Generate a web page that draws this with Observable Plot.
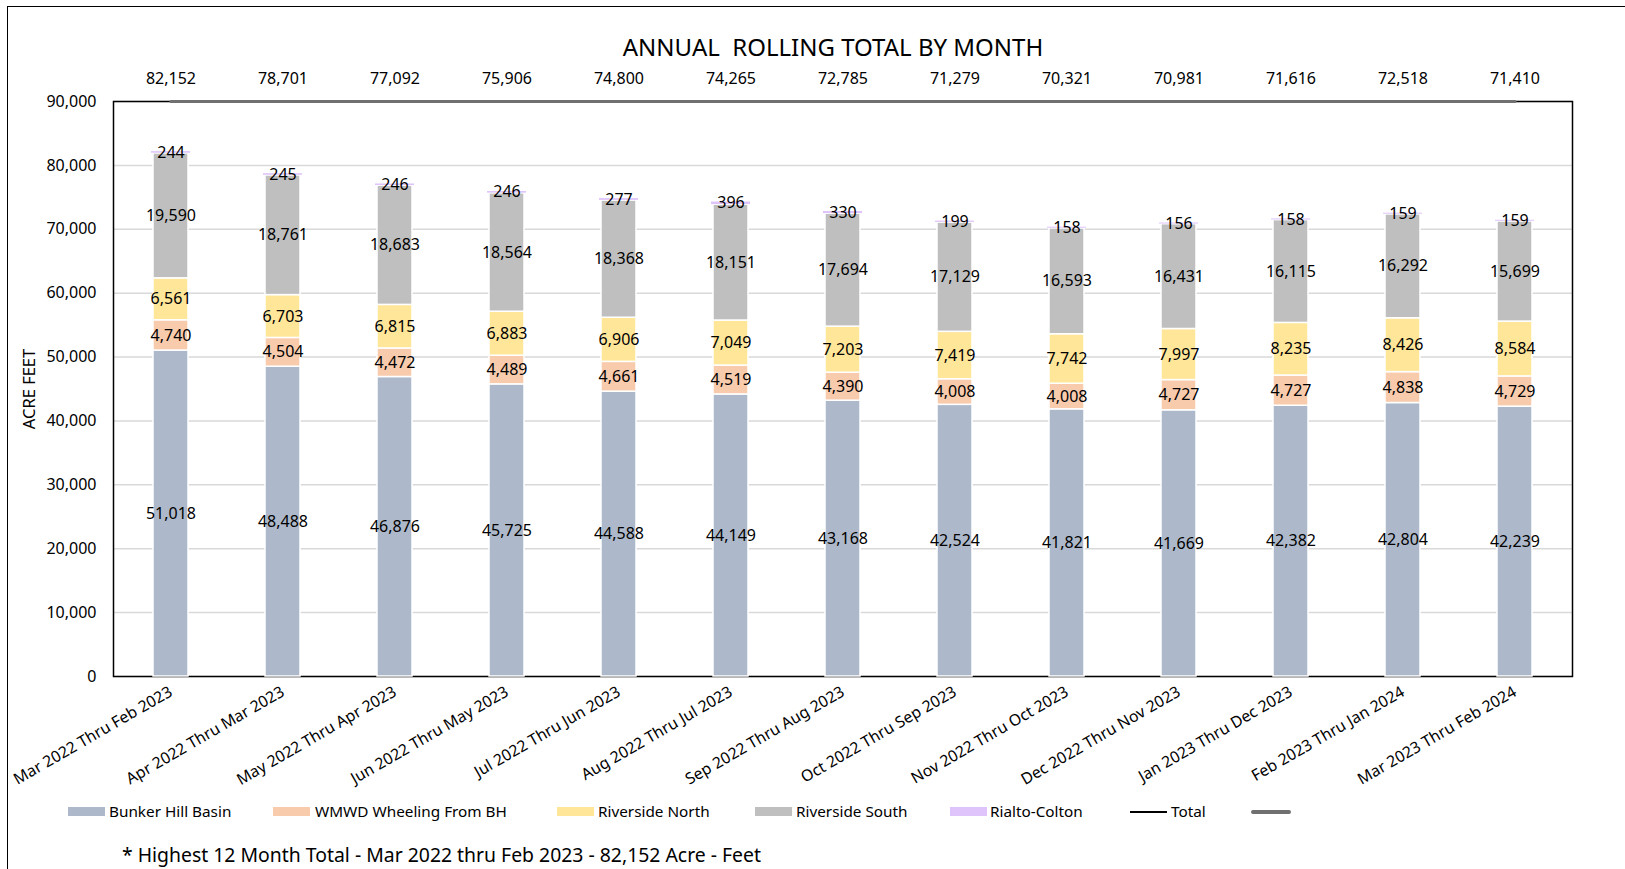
<!DOCTYPE html>
<html>
<head>
<meta charset="utf-8">
<script src="https://cdn.jsdelivr.net/npm/d3@7"></script>
<script src="https://cdn.jsdelivr.net/npm/@observablehq/plot@0.6"></script>
<style>
  html, body { margin: 0; padding: 0; background: #fff; }
  body { width: 1625px; height: 869px; position: relative; overflow: hidden; font-family: "Noto Sans", sans-serif; color: #000; }
  #border { position: absolute; left: 7px; top: 6px; width: 1700px; height: 900px; border: 1.5px solid #000; box-sizing: border-box; }
  #chart { position: absolute; left: 0; top: 0; }
  #title { position: absolute; left: 0; width: 1666px; top: 32px; text-align: center; font-size: 24px; white-space: pre; line-height: 30px; }
  .leg { position: absolute; top: 800px; height: 22px; font-size: 15.3px; line-height: 22px; white-space: nowrap; }
  .sw { position: absolute; top: 807px; height: 9px; }
  .ln { position: absolute; }
  #note { position: absolute; left: 122px; top: 842px; font-size: 19.4px; line-height: 26px; white-space: nowrap; }
</style>
</head>
<body>
<div id="border"></div>
<div id="chart"></div>
<div id="title">ANNUAL  ROLLING TOTAL BY MONTH</div>
<div id="legend"></div>
<div id="note">* Highest 12 Month Total - Mar 2022 thru Feb 2023 - 82,152 Acre - Feet</div>
<script>
const categories = [
  "Mar 2022 Thru Feb 2023", "Apr 2022 Thru Mar 2023", "May 2022 Thru Apr 2023",
  "Jun 2022 Thru May 2023", "Jul 2022 Thru Jun 2023", "Aug 2022 Thru Jul 2023",
  "Sep 2022 Thru Aug 2023", "Oct 2022 Thru Sep 2023", "Nov 2022 Thru Oct 2023",
  "Dec 2022 Thru Nov 2023", "Jan 2023 Thru Dec 2023", "Feb 2023 Thru Jan 2024",
  "Mar 2023 Thru Feb 2024"
];
const bunkerHill = [51018, 48488, 46876, 45725, 44588, 44149, 43168, 42524, 41821, 41669, 42382, 42804, 42239];
const wmwdWheeling = [4740, 4504, 4472, 4489, 4661, 4519, 4390, 4008, 4008, 4727, 4727, 4838, 4729];
const riversideNorth = [6561, 6703, 6815, 6883, 6906, 7049, 7203, 7419, 7742, 7997, 8235, 8426, 8584];
const riversideSouth = [19590, 18761, 18683, 18564, 18368, 18151, 17694, 17129, 16593, 16431, 16115, 16292, 15699];
const rialtoColton = [244, 245, 246, 246, 277, 396, 330, 199, 158, 156, 158, 159, 159];
const totals = [82152, 78701, 77092, 75906, 74800, 74265, 72785, 71279, 70321, 70981, 71616, 72518, 71410];
const seriesNames = ["Bunker Hill Basin", "WMWD Wheeling From BH", "Riverside North", "Riverside South", "Rialto-Colton"];
const seriesColors = ["#adb9ca", "#f8cbad", "#ffe699", "#bfbfbf", "#dfc3fb"];
const yTicks = [0, 10000, 20000, 30000, 40000, 50000, 60000, 70000, 80000, 90000];

const seriesValues = [bunkerHill, wmwdWheeling, riversideNorth, riversideSouth, rialtoColton];
const rows = categories.flatMap((c, i) => seriesNames.map((s, j) => ({period: c, series: s, value: seriesValues[j][i]})));
const rialtoRows = categories.map((c, i) => {
  const base = bunkerHill[i] + wmwdWheeling[i] + riversideNorth[i] + riversideSouth[i];
  return {period: c, base, top: base + rialtoColton[i]};
});
const fmt = d3.format(",");

const chart = Plot.plot({
  width: 1625, height: 869,
  marginLeft: 113, marginRight: 53, marginTop: 101, marginBottom: 193,
  style: {fontFamily: "Noto Sans", fontSize: "16px", color: "#000", background: "transparent", overflow: "visible"},
  x: {domain: categories, paddingInner: 0.69, paddingOuter: 0.345, label: null},
  y: {domain: [0, 90000], label: null},
  color: {domain: seriesNames, range: seriesColors},
  marks: [
    Plot.gridY(yTicks, {stroke: "#d9d9d9", strokeOpacity: 1, strokeWidth: 1.5}),
    Plot.frame({stroke: "#000", strokeWidth: 1.5}),
    Plot.barY(rows, Plot.stackY({x: "period", y: "value", fill: "series", order: seriesNames, stroke: "white", strokeWidth: 1.5})),
    Plot.barY(rialtoRows, {x: "period", y1: "base", y2: "top", fill: "#dfc3fb", insetLeft: -2, insetRight: -2}),
    Plot.text(rows, Plot.stackY({x: "period", y: "value", z: "series", order: seriesNames, text: d => fmt(d.value), fontSize: 16, fill: "#000"})),
    Plot.axisY({ticks: yTicks, tickSize: 0, tickPadding: 17, tickFormat: fmt, fontSize: 16}),
    Plot.axisX({tickSize: 0, tickRotate: -30, tickPadding: 14, fontSize: 15.8}),
    Plot.line(categories, {x: d => d, y: () => 90000, stroke: "#707070", strokeWidth: 3}),
    Plot.text(categories, {x: d => d, text: (d, i) => fmt(totals[i]), frameAnchor: "top", dy: -29, fontSize: 16, fill: "#000"}),
    Plot.text(["ACRE FEET"], {frameAnchor: "left", dx: -84, rotate: -90, textAnchor: "middle", fontSize: 16.5, fill: "#000"})
  ]
});
document.getElementById("chart").appendChild(chart);

// Legend
const legend = document.getElementById("legend");
const legendItems = [
  {name: seriesNames[0], color: seriesColors[0], sx: 68, tx: 109},
  {name: seriesNames[1], color: seriesColors[1], sx: 273, tx: 315},
  {name: seriesNames[2], color: seriesColors[2], sx: 557, tx: 598},
  {name: seriesNames[3], color: seriesColors[3], sx: 755, tx: 796},
  {name: seriesNames[4], color: seriesColors[4], sx: 950, tx: 990}
];
for (const it of legendItems) {
  const sw = document.createElement("div");
  sw.className = "sw";
  sw.style.left = it.sx + "px"; sw.style.width = "37px"; sw.style.background = it.color;
  legend.appendChild(sw);
  const t = document.createElement("div");
  t.className = "leg"; t.style.left = it.tx + "px"; t.textContent = it.name;
  legend.appendChild(t);
}
const totLine = document.createElement("div");
totLine.className = "ln";
totLine.style.cssText = "left:1130px;top:811px;width:37px;height:2px;background:#000;";
legend.appendChild(totLine);
const totText = document.createElement("div");
totText.className = "leg"; totText.style.left = "1171px"; totText.textContent = "Total";
legend.appendChild(totText);
const grayLine = document.createElement("div");
grayLine.className = "ln";
grayLine.style.cssText = "left:1251px;top:810px;width:40px;height:4px;border-radius:2px;background:#707070;";
legend.appendChild(grayLine);
</script>
</body>
</html>
